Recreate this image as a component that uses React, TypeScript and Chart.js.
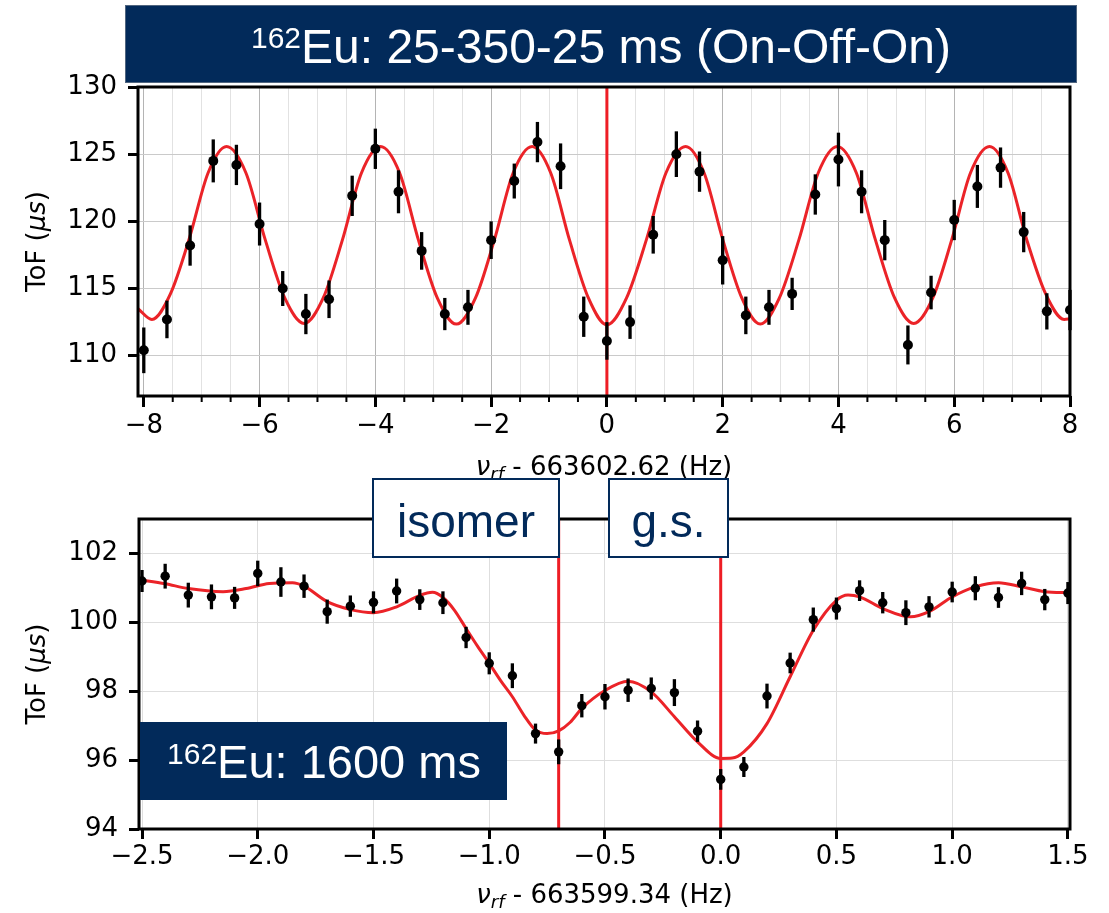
import React, { useEffect, useRef } from 'react';
import { Chart, registerables } from 'chart.js';

Chart.register(...registerables);

const W = 1109;
const H = 913;

// ---- Upper panel: 25-350-25 ms (On-Off-On) Ramsey scan ----
const topFreq = [
  -8.0, -7.6, -7.2, -6.8, -6.4, -6.0, -5.6, -5.2, -4.8, -4.4, -4.0, -3.6, -3.2, -2.8,
  -2.4, -2.0, -1.6, -1.2, -0.8, -0.4, 0.0, 0.4, 0.8, 1.2, 1.6, 2.0, 2.4, 2.8, 3.2, 3.6,
  4.0, 4.4, 4.8, 5.2, 5.6, 6.0, 6.4, 6.8, 7.2, 7.6, 8.0,
];
const topTof = [
  110.4, 112.7, 118.2, 124.5, 124.2, 119.8, 115.0, 113.1, 114.2, 121.9, 125.4, 122.2, 117.8, 113.1,
  113.6, 118.6, 123.0, 125.9, 124.1, 112.9, 111.1, 112.5, 119.0, 125.0, 123.7, 117.1, 113.0, 113.6,
  114.6, 122.0, 124.6, 122.2, 118.6, 110.8, 114.7, 120.1, 122.6, 124.0, 119.2, 113.3, 113.4,
];
const topTofErr = [
  1.7, 1.4, 1.5, 1.6, 1.5, 1.6, 1.3, 1.5, 1.4, 1.5, 1.5, 1.6, 1.4, 1.2,
  1.3, 1.4, 1.3, 1.5, 1.7, 1.5, 1.4, 1.25, 1.4, 1.7, 1.5, 1.8, 1.4, 1.3,
  1.2, 1.5, 2.0, 1.6, 1.5, 1.45, 1.25, 1.5, 1.6, 1.5, 1.5, 1.35, 1.5,
];
const topFitFreq = [
  -8.1, -7.86, -7.54, -7.215, -6.89, -6.57, -6.235, -5.9, -5.565, -5.23, -4.9, -4.57, -4.24,
  -3.91, -3.58, -3.255, -2.93, -2.6, -2.27, -1.945, -1.62, -1.29, -0.97, -0.645, -0.32, 0.0,
  0.34, 0.68, 1.02, 1.36, 1.68, 2.005, 2.33, 2.65, 2.98, 3.315, 3.65, 3.98, 4.31, 4.64, 4.97,
  5.3, 5.63, 5.955, 6.28, 6.61, 6.93, 7.255, 7.58, 7.9, 8.0,
];
const topFitTof = [
  113.5, 112.7, 114.6, 118.7, 123.6, 125.57, 123.6, 118.6, 114.3, 112.4, 114.3, 118.6, 123.6,
  125.57, 123.6, 118.6, 114.3, 112.35, 114.3, 118.6, 123.6, 125.57, 123.6, 118.6, 114.3, 112.3,
  114.3, 118.6, 123.6, 125.57, 123.6, 118.6, 114.3, 112.35, 114.3, 118.6, 123.6, 125.57, 123.6,
  118.6, 114.3, 112.4, 114.3, 118.6, 123.6, 125.57, 123.6, 118.6, 114.6, 112.7, 112.75,
];
const topXTicks = [
  -8, -7.5, -7, -6.5, -6, -5.5, -5, -4.5, -4, -3.5, -3, -2.5, -2, -1.5, -1, -0.5, 0,
  0.5, 1, 1.5, 2, 2.5, 3, 3.5, 4, 4.5, 5, 5.5, 6, 6.5, 7, 7.5, 8,
];
const topYTicks = [110, 115, 120, 125, 130];
const topMarkers = [0.0];
const topOffset = '663602.62';
const topHeading = 'Eu: 25-350-25 ms (On-Off-On)';

// ---- Lower panel: 1600 ms scan with isomer and ground state ----
const botFreq = [
  -2.5, -2.4, -2.3, -2.2, -2.1, -2.0, -1.9, -1.8, -1.7, -1.6, -1.5, -1.4, -1.3, -1.2,
  -1.1, -1.0, -0.9, -0.8, -0.7, -0.6, -0.5, -0.4, -0.3, -0.2, -0.1, 0.0, 0.1, 0.2,
  0.3, 0.4, 0.5, 0.6, 0.7, 0.8, 0.9, 1.0, 1.1, 1.2, 1.3, 1.4, 1.5,
];
const botTof = [
  101.2, 101.34, 100.79, 100.74, 100.71, 101.42, 101.17, 101.05, 100.31, 100.47, 100.58, 100.91,
  100.66, 100.57, 99.56, 98.81, 98.45, 96.77, 96.24, 97.58, 97.84, 98.03, 98.08, 97.96, 96.84,
  95.44, 95.8, 97.86, 98.82, 100.08, 100.4, 100.92, 100.57, 100.28, 100.45, 100.88, 100.99,
  100.72, 101.13, 100.66, 100.85,
];
const botTofErr = [
  0.32, 0.36, 0.36, 0.36, 0.32, 0.37, 0.43, 0.34, 0.35, 0.31, 0.32, 0.36, 0.3, 0.33,
  0.31, 0.32, 0.36, 0.29, 0.36, 0.34, 0.37, 0.34, 0.32, 0.39, 0.31, 0.3, 0.29, 0.36,
  0.3, 0.35, 0.32, 0.3, 0.31, 0.36, 0.31, 0.3, 0.35, 0.3, 0.34, 0.31, 0.32,
];
const botFitFreq = [
  -2.513, -2.4, -2.3, -2.15, -2.05, -1.95, -1.85, -1.8, -1.7, -1.6, -1.5, -1.4, -1.3, -1.245,
  -1.2, -1.15, -1.1, -1.05, -1.0, -0.95, -0.9, -0.85, -0.8, -0.75, -0.7, -0.65, -0.6, -0.5,
  -0.4, -0.3, -0.2, -0.1, 0.0, 0.05, 0.1, 0.2, 0.3, 0.4, 0.5, 0.55, 0.6, 0.7, 0.82, 0.9,
  1.0, 1.1, 1.2, 1.3, 1.4, 1.509,
];
const botFitTof = [
  101.24, 101.12, 100.98, 100.89, 100.98, 101.13, 101.15, 101.05, 100.6, 100.37, 100.28, 100.45,
  100.78, 100.87, 100.72, 100.35, 99.82, 99.3, 98.81, 98.3, 97.84, 97.3, 96.87, 96.77, 96.85,
  97.1, 97.5, 98.02, 98.29, 97.98, 97.26, 96.53, 96.05, 96.06, 96.24, 97.06, 98.42, 99.77,
  100.64, 100.79, 100.74, 100.4, 100.16, 100.31, 100.74, 101.03, 101.15, 101.03, 100.89, 100.86,
];
const botXTicks = [-2.5, -2.0, -1.5, -1.0, -0.5, 0.0, 0.5, 1.0, 1.5];
const botYTicks = [94, 96, 98, 100, 102];
const botMarkers = [-0.7, 0.0];
const botOffset = '663599.34';
const botHeading = 'Eu: 1600 ms';
const isotope = '162';
const stateLabels = ['isomer', 'g.s.'];

// ---- styling ----
const NAVY = '#022a5a';
const LINE_RED = '#ee1d25';
const FIT_RED = '#eb2328';
const SANS = "'DejaVu Sans', sans-serif";
const ARIAL = "'Liberation Sans', Arial, sans-serif";
const tickFont = { family: "'DejaVu Sans'", size: 26 };

type Run = { text: string; font: string; dy?: number };

function drawRuns(ctx: CanvasRenderingContext2D, runs: Run[], x: number, y: number) {
  let total = 0;
  for (const r of runs) {
    ctx.font = r.font;
    total += ctx.measureText(r.text).width;
  }
  let cx = x - total / 2;
  ctx.textAlign = 'left';
  ctx.textBaseline = 'alphabetic';
  for (const r of runs) {
    ctx.font = r.font;
    ctx.fillText(r.text, cx, y + (r.dy || 0));
    cx += ctx.measureText(r.text).width;
  }
}

const withMinus = (s: string) => s.replace('-', '\u2212');
const near = (a: number, b: number) => Math.abs(a - b) < 1e-6;
const isEven = (v: number) => near(v / 2, Math.round(v / 2));

function xTitleRuns(offset: string): Run[] {
  return [
    { text: '\u03bd', font: `italic 26px ${SANS}` },
    { text: 'rf', font: `italic 18px ${SANS}`, dy: 5 },
    { text: ` - ${offset} (Hz)`, font: `26px ${SANS}` },
  ];
}

const yTitleRuns: Run[] = [
  { text: 'ToF (', font: `26px ${SANS}` },
  { text: '\u03bcs', font: `italic 26px ${SANS}` },
  { text: ')', font: `26px ${SANS}` },
];

type PanelSpec = {
  freq: number[];
  tof: number[];
  err: number[];
  markers: number[];
  minorTicks: number[];
  offset: string;
  xTitleY: number;
  overlay: (ctx: CanvasRenderingContext2D) => void;
};

function panelPlugin(spec: PanelSpec) {
  return {
    id: 'panelDecor',
    beforeDatasetsDraw(chart: any) {
      const { ctx, chartArea, scales } = chart;
      ctx.save();
      ctx.strokeStyle = LINE_RED;
      ctx.lineWidth = 3;
      for (const m of spec.markers) {
        const px = scales.x.getPixelForValue(m);
        ctx.beginPath();
        ctx.moveTo(px, chartArea.top);
        ctx.lineTo(px, chartArea.bottom);
        ctx.stroke();
      }
      ctx.restore();
    },
    beforeDatasetDraw(chart: any, args: any) {
      if (args.index !== 0) return;
      const { ctx, scales } = chart;
      ctx.save();
      ctx.strokeStyle = '#000';
      ctx.lineWidth = 3.3;
      spec.freq.forEach((f, i) => {
        const px = scales.x.getPixelForValue(f);
        ctx.beginPath();
        ctx.moveTo(px, scales.y.getPixelForValue(spec.tof[i] - spec.err[i]));
        ctx.lineTo(px, scales.y.getPixelForValue(spec.tof[i] + spec.err[i]));
        ctx.stroke();
      });
      ctx.restore();
    },
    afterDatasetsDraw(chart: any) {
      const { ctx, chartArea, scales } = chart;
      ctx.save();
      ctx.strokeStyle = '#000';
      ctx.lineWidth = 2;
      for (const v of spec.minorTicks) {
        const px = scales.x.getPixelForValue(v);
        ctx.beginPath();
        ctx.moveTo(px, chartArea.bottom);
        ctx.lineTo(px, chartArea.bottom + 6);
        ctx.stroke();
      }
      ctx.lineWidth = 3;
      ctx.strokeRect(chartArea.left, chartArea.top, chartArea.right - chartArea.left, chartArea.bottom - chartArea.top);
      ctx.restore();
    },
    afterDraw(chart: any) {
      const { ctx, chartArea } = chart;
      ctx.save();
      ctx.fillStyle = '#000';
      drawRuns(ctx, xTitleRuns(spec.offset), (chartArea.left + chartArea.right) / 2, spec.xTitleY);
      ctx.save();
      ctx.translate(45, (chartArea.top + chartArea.bottom) / 2);
      ctx.rotate(-Math.PI / 2);
      drawRuns(ctx, yTitleRuns, 0, 0);
      ctx.restore();
      spec.overlay(ctx);
      ctx.restore();
    },
  };
}

function makeConfig(opts: {
  freq: number[];
  tof: number[];
  fitFreq: number[];
  fitTof: number[];
  xMin: number;
  xMax: number;
  yMin: number;
  yMax: number;
  xTicks: number[];
  yTicks: number[];
  xLabel: (v: number) => string;
  xGrid: (v: number) => string;
  xTickColor: (v: number) => string;
  yGrid: string;
  padding: { top: number; bottom: number; left: number; right: number };
  yWidth: number;
  xHeight: number;
  xTickLength: number;
  xPad: number;
  pointRadius: number;
  plugin: any;
}): any {
  return {
    type: 'scatter',
    data: {
      datasets: [
        {
          data: opts.freq.map((f, i) => ({ x: f, y: opts.tof[i] })),
          pointRadius: opts.pointRadius,
          pointHoverRadius: opts.pointRadius,
          pointBackgroundColor: '#000',
          pointBorderWidth: 0,
          order: 0,
        },
        {
          type: 'line',
          data: opts.fitFreq.map((f, i) => ({ x: f, y: opts.fitTof[i] })),
          borderColor: FIT_RED,
          borderWidth: 3,
          pointRadius: 0,
          fill: false,
          cubicInterpolationMode: 'monotone',
          order: 1,
        },
      ],
    },
    options: {
      animation: false,
      responsive: false,
      devicePixelRatio: 1,
      events: [],
      layout: { padding: opts.padding },
      plugins: { legend: { display: false }, tooltip: { enabled: false }, title: { display: false } },
      scales: {
        x: {
          type: 'linear',
          min: opts.xMin,
          max: opts.xMax,
          afterBuildTicks: (s: any) => {
            s.ticks = opts.xTicks.map((v) => ({ value: v }));
          },
          afterFit: (s: any) => {
            s.height = opts.xHeight;
          },
          ticks: {
            autoSkip: false,
            maxRotation: 0,
            minRotation: 0,
            padding: opts.xPad,
            color: '#000',
            font: tickFont,
            callback: (v: number) => opts.xLabel(v),
          },
          grid: {
            color: (c: any) => opts.xGrid(c.tick ? c.tick.value : 0),
            lineWidth: 1,
            tickLength: opts.xTickLength,
            tickWidth: 3,
            tickColor: (c: any) => opts.xTickColor(c.tick ? c.tick.value : 0),
          },
          border: { display: false },
        },
        y: {
          type: 'linear',
          min: opts.yMin,
          max: opts.yMax,
          afterBuildTicks: (s: any) => {
            s.ticks = opts.yTicks.map((v) => ({ value: v }));
          },
          afterFit: (s: any) => {
            s.width = opts.yWidth;
          },
          ticks: { padding: 11, color: '#000', font: tickFont, callback: (v: number) => String(v) },
          grid: { color: opts.yGrid, lineWidth: 1, tickLength: 10, tickWidth: 3, tickColor: '#000' },
          border: { display: false },
        },
      },
    },
    plugins: [opts.plugin],
  };
}

function topOverlay(ctx: CanvasRenderingContext2D) {
  ctx.fillStyle = NAVY;
  ctx.fillRect(125, 5, 952, 78);
  ctx.strokeStyle = '#50657f';
  ctx.lineWidth = 1;
  ctx.strokeRect(125.5, 5.5, 951, 77);
  ctx.fillStyle = '#fff';
  drawRuns(
    ctx,
    [
      { text: isotope, font: `30px ${ARIAL}`, dy: -15 },
      { text: topHeading, font: `48px ${ARIAL}` },
    ],
    601,
    63,
  );
}

function bottomOverlay(ctx: CanvasRenderingContext2D) {
  const boxes = [
    { x: 373, w: 186, label: stateLabels[0] },
    { x: 609, w: 119, label: stateLabels[1] },
  ];
  for (const b of boxes) {
    ctx.fillStyle = '#fff';
    ctx.fillRect(b.x, 479, b.w, 78);
    ctx.strokeStyle = NAVY;
    ctx.lineWidth = 2;
    ctx.strokeRect(b.x, 479, b.w, 78);
    ctx.fillStyle = NAVY;
    drawRuns(ctx, [{ text: b.label, font: `46px ${ARIAL}` }], b.x + b.w / 2, 537);
  }
  ctx.fillStyle = NAVY;
  ctx.fillRect(140, 722, 367, 78);
  ctx.fillStyle = '#fff';
  drawRuns(
    ctx,
    [
      { text: isotope, font: `30px ${ARIAL}`, dy: -14 },
      { text: botHeading, font: `47px ${ARIAL}` },
    ],
    324,
    778,
  );
}

export default function App() {
  const topRef = useRef<HTMLCanvasElement>(null);
  const botRef = useRef<HTMLCanvasElement>(null);

  useEffect(() => {
    const topChart = new Chart(
      topRef.current as HTMLCanvasElement,
      makeConfig({
        freq: topFreq,
        tof: topTof,
        fitFreq: topFitFreq,
        fitTof: topFitTof,
        xMin: -8.1,
        xMax: 8.0,
        yMin: 107,
        yMax: 130,
        xTicks: topXTicks,
        yTicks: topYTicks,
        xLabel: (v) => (isEven(v) ? withMinus(String(v)) : ''),
        xGrid: (v) => (isEven(v) ? '#b4b4b4' : '#e2e2e2'),
        xTickColor: (v) => (isEven(v) ? '#000' : 'rgba(0,0,0,0)'),
        yGrid: '#cacaca',
        padding: { top: 87, bottom: H - 478, left: 0, right: W - 1070 },
        yWidth: 138,
        xHeight: 82,
        xTickLength: 11,
        xPad: 4,
        pointRadius: 5,
        plugin: panelPlugin({
          freq: topFreq,
          tof: topTof,
          err: topTofErr,
          markers: topMarkers,
          minorTicks: topXTicks.filter((v) => !isEven(v)),
          offset: topOffset,
          xTitleY: 475,
          overlay: topOverlay,
        }),
      }),
    );
    const botChart = new Chart(
      botRef.current as HTMLCanvasElement,
      makeConfig({
        freq: botFreq,
        tof: botTof,
        fitFreq: botFitFreq,
        fitTof: botFitTof,
        xMin: -2.513,
        xMax: 1.509,
        yMin: 94,
        yMax: 103,
        xTicks: botXTicks,
        yTicks: botYTicks,
        xLabel: (v) => withMinus(v.toFixed(1)),
        xGrid: () => '#dedede',
        xTickColor: () => '#000',
        yGrid: '#dedede',
        padding: { top: 519, bottom: 0, left: 0, right: W - 1070 },
        yWidth: 139,
        xHeight: H - 829,
        xTickLength: 10,
        xPad: 3,
        pointRadius: 4.7,
        plugin: panelPlugin({
          freq: botFreq,
          tof: botTof,
          err: botTofErr,
          markers: botMarkers,
          minorTicks: [],
          offset: botOffset,
          xTitleY: 903,
          overlay: bottomOverlay,
        }),
      }),
    );
    return () => {
      topChart.destroy();
      botChart.destroy();
    };
  }, []);

  const canvasStyle: React.CSSProperties = { position: 'absolute', left: 0, top: 0 };
  return (
    <div style={{ position: 'fixed', left: 0, top: 0, width: W, height: H, background: '#fff' }}>
      <canvas ref={topRef} width={W} height={H} style={canvasStyle} />
      <canvas ref={botRef} width={W} height={H} style={canvasStyle} />
    </div>
  );
}
